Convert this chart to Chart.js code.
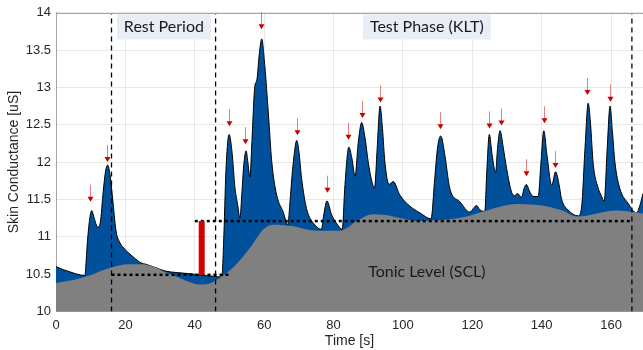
<!DOCTYPE html>
<html>
<head>
<meta charset="utf-8">
<script src="https://cdn.jsdelivr.net/npm/chart.js@4.4.1/dist/chart.umd.min.js"></script>
<style>
  html, body { margin: 0; padding: 0; background: #fff; }
</style>
</head>
<body>
<canvas id="scChart" width="643" height="350"></canvas>
<script>
// skin conductance (phasic + tonic)
const scTime = [0, 2, 4, 6, 8.3, 9.0, 9.6, 10.3, 11.0, 12.0, 12.8, 13.6, 14.3, 14.9, 15.5, 16.3, 17.3, 18.3, 19.5, 21,
  22.5, 24.5, 26, 28.5, 31.5, 35, 39.5, 43, 45.5, 47.8, 48.3, 49.0, 49.9, 50.7, 51.6, 52.4, 53.0, 53.6, 54.1, 54.8,
  55.3, 55.9, 56.5, 57.3, 57.9, 58.6, 59.3, 60.2, 61.2, 62.2, 63.6, 65.5, 66.8, 67.5, 68.3, 69.4, 70.0, 70.8, 72.2, 74.6,
  76.5, 77.2, 78.1, 79.4, 81, 82.5, 83.3, 84.4, 85.3, 86.2, 87.1, 88.1, 89, 90, 91.0, 91.8, 92.6, 93.4, 94.1, 94.8,
  96.0, 97.2, 99.1, 102, 104.9, 108.1, 109.2, 110.0, 110.9, 112.1, 113.5, 116.4, 119.3, 120.3, 121.2, 122.2, 123.6, 124.2, 124.9, 125.7,
  126.7, 127.3, 128.0, 128.9, 129.9, 131.3, 132.2, 133.0, 134.2, 135.0, 135.6, 136.4, 137.5, 139.0, 139.8, 140.6, 141.5, 142.9, 144.0, 145.0,
  145.7, 147.6, 150.5, 151.5, 152.5, 153.4, 154.1, 154.8, 156.3, 157.2, 158.0, 158.9, 159.7, 160.4, 161.1, 162.5, 164.9, 167.3, 168.3, 169.2];
const scValue = [10.60, 10.56, 10.53, 10.50, 10.48, 10.90, 11.20, 11.35, 11.25, 11.13, 11.20, 11.60, 11.88, 11.96, 11.85, 11.52, 11.08, 10.93, 10.85, 10.78,
  10.72, 10.65, 10.63, 10.59, 10.54, 10.52, 10.50, 10.48, 10.47, 10.46, 10.90, 11.90, 12.37, 12.15, 11.65, 11.42, 11.25, 11.60, 11.95, 12.15,
  12.00, 11.80, 12.30, 13.01, 13.10, 13.45, 13.65, 13.28, 12.66, 12.00, 11.56, 11.33, 11.16, 11.50, 11.95, 12.29, 12.15, 11.78, 11.38, 11.16,
  11.10, 11.30, 11.48, 11.30, 11.17, 11.10, 11.70, 12.20, 12.05, 11.81, 12.25, 12.53, 12.35, 12.00, 11.75, 11.65, 12.20, 12.75, 12.45, 12.00,
  11.70, 11.74, 11.56, 11.41, 11.32, 11.24, 11.80, 12.20, 12.35, 12.09, 11.65, 11.47, 11.33, 11.38, 11.42, 11.36, 11.34, 11.90, 12.37, 12.10,
  11.86, 12.20, 12.42, 12.20, 11.91, 11.60, 11.55, 11.58, 11.53, 11.66, 11.70, 11.62, 11.54, 11.54, 12.00, 12.42, 12.10, 11.69, 11.87, 11.70,
  11.51, 11.36, 11.28, 11.40, 12.20, 12.79, 12.50, 12.00, 11.65, 11.55, 11.47, 12.20, 12.75, 12.40, 12.00, 11.65, 11.45, 11.32, 11.42, 11.58];

// tonic level (SCL)
const tonicTime = [0, 5, 9.6, 15.4, 21, 25, 28, 31.7, 35, 38, 41.5, 44, 47.3, 51.1, 55.9, 59.8, 62.7, 68.4, 75.1, 81.8,
  84, 86.7, 91.4, 95, 99.1, 104.9, 108.7, 113, 118.4, 122, 126, 132.8, 138, 142.4, 146, 150.1, 153, 156.8, 161.6, 166.4, 169.2];
const tonicValue = [10.38, 10.42, 10.48, 10.58, 10.63, 10.63, 10.60, 10.52, 10.46, 10.40, 10.36, 10.37, 10.45, 10.59, 10.85, 11.10, 11.16, 11.14, 11.08, 11.08,
  11.12, 11.21, 11.30, 11.29, 11.25, 11.21, 11.22, 11.23, 11.27, 11.32, 11.38, 11.44, 11.43, 11.40, 11.35, 11.27, 11.28, 11.32, 11.35, 11.33, 11.31];

// detected SCR peaks (arrow tips)
const arrowTime = [9.9, 14.7, 49.9, 54.6, 59.2, 69.5, 78.0, 84.2, 88.2, 93.3, 110.8, 124.8, 128.2, 135.5, 140.6, 143.9, 153.1, 159.6];
const arrowValue = [11.47, 12.0, 12.48, 12.24, 13.78, 12.36, 11.59, 12.30, 12.59, 12.80, 12.44, 12.45, 12.49, 11.81, 12.52, 11.92, 12.90, 12.81];

// phase boundaries and baseline levels
const phaseBounds = [16, 46, 166];
const restLevelTime = [16, 49.7];
const restLevel = 10.49;
const testLevelTime = [40, 165.7];
const testLevel = 11.21;
const deltaTime = 42;

const phaseLabels = ['Rest Period', 'Test Phase (KLT)'];
const phaseLabelTime = [31.1, 106.9];
const phaseLabelValue = 13.81;
const tonicLabel = 'Tonic Level (SCL)';
const tonicLabelTime = 106.9;
const tonicLabelValue = 10.53;

const xTicks = { min: 0, max: 169.2, step: 20 };
const yTicks = { min: 10, max: 14, step: 0.5 };

const toPoints = (xs, ys) => xs.map((t, i) => ({ x: t, y: ys[i] }));

let datasets = [
  {
    label: 'SC',
    data: toPoints(scTime, scValue),
    borderColor: '#000',
    borderWidth: 1,
    backgroundColor: '#00509b',
    fill: 'start',
    cubicInterpolationMode: 'monotone',
    pointRadius: 0,
    order: 5
  },
  {
    label: 'SCL',
    data: toPoints(tonicTime, tonicValue),
    borderWidth: 0,
    borderColor: 'rgba(0,0,0,0)',
    backgroundColor: '#808080',
    fill: 'start',
    cubicInterpolationMode: 'monotone',
    pointRadius: 0,
    order: 4
  }
];

phaseBounds.forEach(t => {
  datasets.push({
    data: [{ x: t, y: yTicks.min }, { x: t, y: yTicks.max }],
    borderColor: '#000', borderWidth: 1.3, borderDash: [5, 4],
    pointRadius: 0, fill: false, order: 2
  });
});

datasets.push({
  data: toPoints(restLevelTime, [restLevel, restLevel]),
  borderColor: '#000', borderWidth: 2.5, borderDash: [3, 3],
  pointRadius: 0, fill: false, order: 1
});
datasets.push({
  data: toPoints(testLevelTime, [testLevel, testLevel]),
  borderColor: '#000', borderWidth: 2.5, borderDash: [3, 3],
  pointRadius: 0, fill: false, order: 1
});
datasets.push({
  data: [{ x: deltaTime, y: restLevel }, { x: deltaTime, y: testLevel }],
  borderColor: '#d40000', borderWidth: 6, borderCapStyle: 'butt',
  pointRadius: 0, fill: false, order: 0
});

const annotations = {
  id: 'annotations',
  afterDatasetsDraw(chart) {
    const ctx = chart.ctx, xs = chart.scales.x, ys = chart.scales.y, area = chart.chartArea;
    ctx.save();

    // top frame line
    ctx.strokeStyle = '#a6a6a6';
    ctx.lineWidth = 1;
    ctx.beginPath();
    ctx.moveTo(area.left, Math.round(area.top) + 0.5);
    ctx.lineTo(area.right, Math.round(area.top) + 0.5);
    ctx.stroke();

    // peak arrows
    arrowTime.forEach((t, i) => {
      const px = Math.round(xs.getPixelForValue(t)) + 0.5;
      const tip = ys.getPixelForValue(arrowValue[i]);
      ctx.strokeStyle = 'rgba(215,40,40,0.6)';
      ctx.lineWidth = 1;
      ctx.beginPath();
      ctx.moveTo(px, tip - 17);
      ctx.lineTo(px, tip - 4);
      ctx.stroke();
      ctx.fillStyle = '#cc0000';
      ctx.beginPath();
      ctx.moveTo(px - 3, tip - 5);
      ctx.lineTo(px + 3, tip - 5);
      ctx.lineTo(px, tip);
      ctx.closePath();
      ctx.fill();
    });

    ctx.font = '16px Lato';
    ctx.textAlign = 'center';
    ctx.textBaseline = 'middle';
    phaseLabels.forEach((txt, i) => {
      const cx = xs.getPixelForValue(phaseLabelTime[i]);
      const cy = ys.getPixelForValue(phaseLabelValue);
      const w = ctx.measureText(txt).width;
      ctx.fillStyle = '#e8edf6';
      ctx.fillRect(cx - w / 2 - 7, cy - 12.5, w + 14, 25);
      ctx.fillStyle = '#1a1a1a';
      ctx.fillText(txt, cx, cy);
    });
    ctx.fillStyle = '#1a1a1a';
    ctx.fillText(tonicLabel, xs.getPixelForValue(tonicLabelTime), ys.getPixelForValue(tonicLabelValue));

    ctx.restore();
  }
};

const tickFont = { family: 'Liberation Sans', size: 13 };
const titleFont = { family: 'Liberation Sans', size: 14 };

new Chart(document.getElementById('scChart'), {
  type: 'line',
  data: { datasets: datasets },
  options: {
    responsive: false,
    animation: false,
    layout: { padding: { top: 8.6, left: 0, right: 0, bottom: 0 } },
    plugins: { legend: { display: false }, tooltip: { enabled: false } },
    scales: {
      x: {
        type: 'linear',
        min: xTicks.min,
        max: xTicks.max,
        grid: { color: '#e8e8e8', drawTicks: false },
        border: { color: '#a6a6a6' },
        ticks: { stepSize: xTicks.step, includeBounds: false, padding: 6, color: '#262626', font: tickFont },
        title: { display: true, text: 'Time [s]', color: '#262626', font: titleFont, padding: { top: 0, bottom: 0 } },
        afterFit: (s) => { s.height = 38.6; }
      },
      y: {
        min: yTicks.min,
        max: yTicks.max,
        grid: { color: '#e8e8e8', drawTicks: false },
        border: { color: '#a6a6a6' },
        ticks: {
          stepSize: yTicks.step, padding: 5, color: '#262626', font: tickFont,
          callback: (v) => String(Math.round(v * 10) / 10)
        },
        title: { display: true, text: 'Skin Conductance [uS]', color: '#262626', font: titleFont, padding: { top: 6, bottom: 0 } },
        afterFit: (s) => { s.width = 56; }
      }
    }
  },
  plugins: [annotations]
});
</script>
</body>
</html>
